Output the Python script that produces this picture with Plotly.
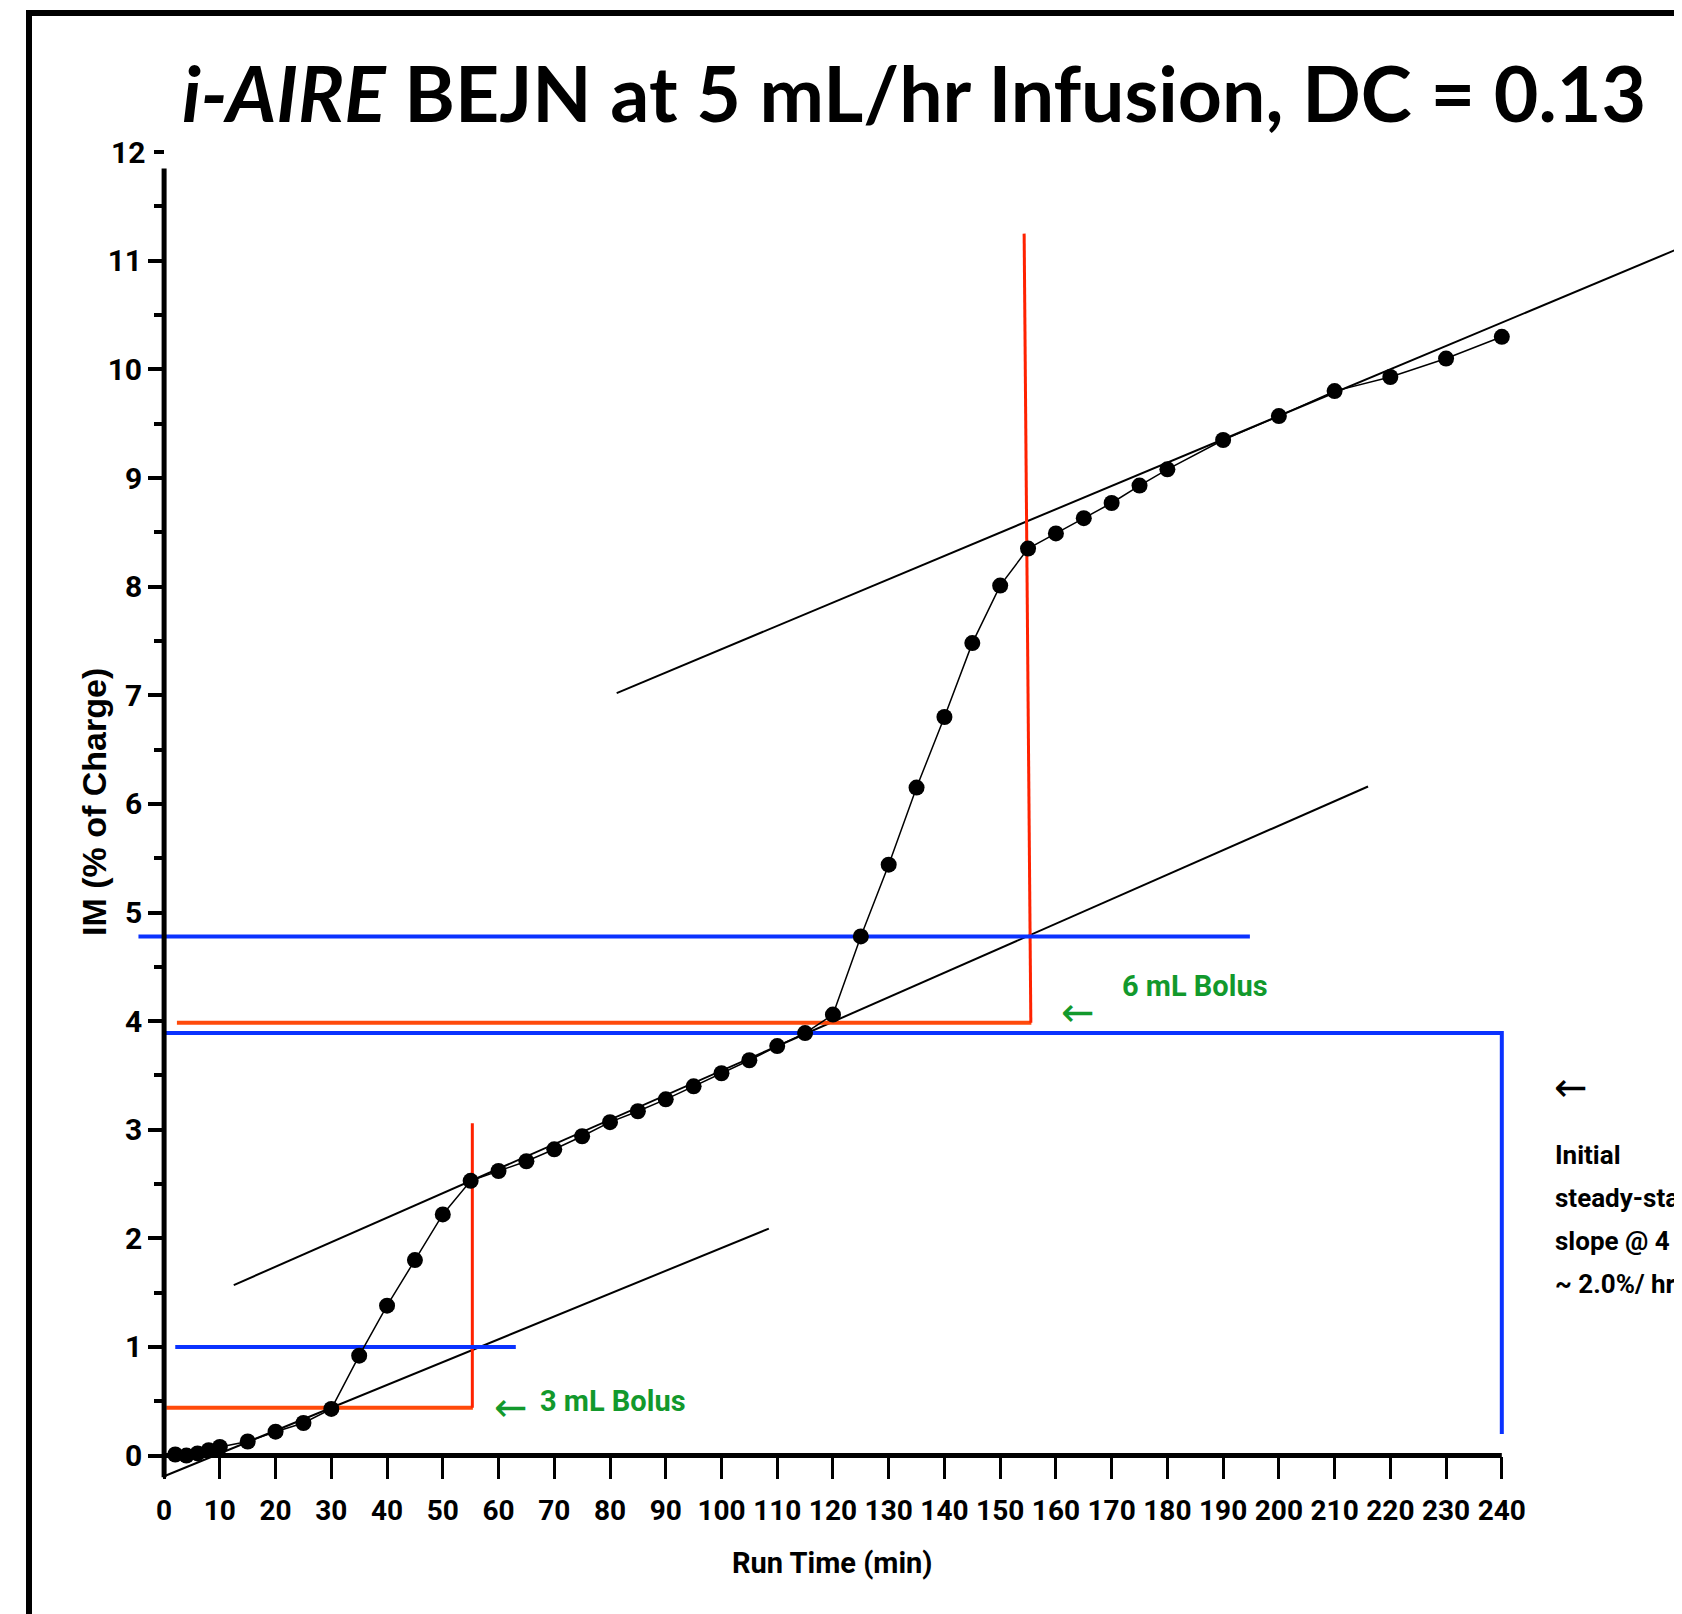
import plotly.graph_objects as go

# ---------------- data ----------------
time_min = [2, 4, 6, 8, 10, 15, 20, 25, 30, 35, 40, 45, 50, 55, 60, 65, 70, 75, 80,
            85, 90, 95, 100, 105, 110, 115, 120, 125, 130, 135, 140, 145, 150, 155,
            160, 165, 170, 175, 180, 190, 200, 210, 220, 230, 240]
im_pct = [0.01, 0.00, 0.02, 0.05, 0.08, 0.13, 0.22, 0.30, 0.43, 0.92, 1.38, 1.80, 2.22,
          2.53, 2.62, 2.71, 2.82, 2.94, 3.07, 3.17, 3.28, 3.40, 3.52, 3.64, 3.77, 3.89,
          4.06, 4.78, 5.44, 6.15, 6.80, 7.48, 8.01, 8.35, 8.49, 8.63, 8.77, 8.93, 9.08,
          9.35, 9.57, 9.80, 9.93, 10.10, 10.30]

# slope (fit) lines
fit1_x = [0, 108.5]
fit1_y = [-0.19, 2.09]
fit2_x = [12.5, 216.0]
fit2_y = [1.57, 6.16]
fit3_x = [81.2, 280.0]
fit3_y = [7.02, 11.29]

# bolus construction lines
bolus3_h_x = [0.4, 55.4]
bolus3_h_y = [0.44, 0.44]
bolus3_v_x = [55.3, 55.3]
bolus3_v_y = [0.44, 3.06]
blue1_x = [2.0, 63.1]
blue1_y = [1.0, 1.0]

bolus6_h_x = [2.3, 155.6]
bolus6_h_y = [3.985, 3.985]
bolus6_v_x = [155.5, 154.3]
bolus6_v_y = [3.985, 11.25]
blue478_x = [-4.6, 194.8]
blue478_y = [4.78, 4.78]
blue389_x = [0.0, 240.0, 240.0]
blue389_y = [3.89, 3.89, 0.2]

x_ticks = list(range(0, 241, 10))
y_ticks = list(range(0, 12))
y_minor = [v + 0.5 for v in range(0, 12)] + [12]

# ---------------- layout geometry ----------------
W, H = 1682, 1614
OFF = 8  # page body margin
SX = 5.5738   # px per minute
SY = 108.62   # px per % unit
X0_PAGE, Y0_PAGE = 164.1, 1455.6
XR0 = -(X0_PAGE - OFF) / SX
XR = [XR0, XR0 + W / SX]
YR1 = (Y0_PAGE - OFF) / SY
YR = [YR1 - H / SY, YR1]
x_axis_pos = (0 - YR[0]) / (YR[1] - YR[0])
y_axis_pos = (0 - XR[0]) / (XR[1] - XR[0])


def px(xp):
    return (xp - OFF) / W


def py(yp):
    return 1 - (yp - OFF) / H


NARROW = "Roboto, Arial, sans-serif"
ARIAL = "Liberation Sans, Arial, sans-serif"
ARROW = "DejaVu Sans, sans-serif"
BLACK = "#000000"
RED = "#ff2200"
ORANGE = "#ff4a0a"
BLUE = "#0a32ff"
GREEN = "#12992c"

fig = go.Figure()


def line(xs, ys, color, width):
    fig.add_trace(go.Scatter(x=xs, y=ys, mode="lines",
                             line=dict(color=color, width=width),
                             hoverinfo="skip", showlegend=False))


line(fit1_x, fit1_y, BLACK, 2)
line(fit2_x, fit2_y, BLACK, 2)
line(fit3_x, fit3_y, BLACK, 2)

line(bolus3_h_x, bolus3_h_y, ORANGE, 4)
line(bolus3_v_x, bolus3_v_y, RED, 3)
line(blue1_x, blue1_y, BLUE, 4)
line(bolus6_h_x, bolus6_h_y, ORANGE, 4)
line(bolus6_v_x, bolus6_v_y, RED, 3)
line(blue478_x, blue478_y, BLUE, 4)
line(blue389_x, blue389_y, BLUE, 4)

fig.add_trace(go.Scatter(x=time_min, y=im_pct, mode="lines+markers",
                         line=dict(color=BLACK, width=1.5),
                         marker=dict(color=BLACK, size=16, symbol="circle"),
                         showlegend=False))

# axis lines
fig.add_shape(type="line", xref="x", yref="y", x0=0, x1=240, y0=0, y1=0,
              line=dict(color=BLACK, width=5))
fig.add_shape(type="line", xref="x", yref="y", x0=0, x1=0, y0=-0.2, y1=11.85,
              line=dict(color=BLACK, width=5))

# outer frame
fig.add_shape(type="rect", xref="paper", yref="paper",
              x0=px(29), x1=1.05, y0=-0.05, y1=py(13),
              line=dict(color=BLACK, width=6), fillcolor="rgba(0,0,0,0)")

tick_font = dict(family=NARROW, size=28, color=BLACK, weight="bold")
ytick_font = dict(family=NARROW, size=30, color=BLACK, weight="bold")

fig.update_layout(
    width=W, height=H,
    margin=dict(l=0, r=0, t=0, b=0),
    paper_bgcolor="white", plot_bgcolor="white",
    showlegend=False,
    hovermode=False,
    title=dict(text="<i>i-AIRE</i> BEJN at 5 mL/hr Infusion, DC = 0.13",
               x=px(914), y=py(95), xanchor="center", yanchor="middle",
               xref="paper", yref="container",
               font=dict(family="Lato, Liberation Sans, sans-serif", size=77,
                         color=BLACK, weight="bold")),
    xaxis=dict(range=XR, anchor="free", position=x_axis_pos,
               showgrid=False, zeroline=False, showline=False,
               tickmode="array", tickvals=x_ticks, tickangle=0,
               ticks="outside", ticklen=22, tickwidth=3, tickcolor=BLACK,
               ticklabelstandoff=8, tickfont=tick_font),
    yaxis=dict(range=YR, anchor="free", position=y_axis_pos,
               showgrid=False, zeroline=False, showline=False,
               tickmode="array", tickvals=y_ticks,
               ticks="outside", ticklen=16, tickwidth=4, tickcolor=BLACK,
               tickfont=ytick_font,
               minor=dict(tickmode="array", tickvals=y_minor, ticks="outside",
                          ticklen=10, tickwidth=4, tickcolor=BLACK)),
)

annotations = [
    dict(text="12", x=0, y=12, xref="x", yref="y", xanchor="right",
         yanchor="middle", xshift=-17, showarrow=False, font=ytick_font),
    dict(text="Run Time (min)", x=px(832), y=py(1563), xref="paper", yref="paper",
         xanchor="center", yanchor="middle", showarrow=False,
         font=dict(family=NARROW, size=29, color=BLACK, weight="bold")),
    dict(text="IM (% of Charge)", x=px(94), y=py(802), xref="paper", yref="paper",
         xanchor="center", yanchor="middle", showarrow=False, textangle=-90,
         font=dict(family=ARIAL, size=34, color=BLACK, weight="bold")),
    dict(text="←", x=px(511), y=py(1407), xref="paper", yref="paper",
         xanchor="center", yanchor="middle", showarrow=False,
         font=dict(family=ARROW, size=40, color=GREEN)),
    dict(text="3 mL Bolus", x=px(538), y=py(1401), xref="paper", yref="paper",
         xanchor="left", yanchor="middle", showarrow=False,
         font=dict(family=NARROW, size=29, color=GREEN, weight="bold")),
    dict(text="←", x=px(1078), y=py(1012), xref="paper", yref="paper",
         xanchor="center", yanchor="middle", showarrow=False,
         font=dict(family=ARROW, size=40, color=GREEN)),
    dict(text="6 mL Bolus", x=px(1120), y=py(986), xref="paper", yref="paper",
         xanchor="left", yanchor="middle", showarrow=False,
         font=dict(family=NARROW, size=29, color=GREEN, weight="bold")),
    dict(text="←", x=px(1571), y=py(1087), xref="paper", yref="paper",
         xanchor="center", yanchor="middle", showarrow=False,
         font=dict(family=ARROW, size=40, color=BLACK)),
]
note_lines = ["Initial", "steady-state", "slope @ 4 mL/hr", "~ 2.0%/ hr"]
note_y = [1155, 1198, 1241, 1284]
for t, yy in zip(note_lines, note_y):
    annotations.append(dict(text=t, x=px(1553), y=py(yy), xref="paper", yref="paper",
                            xanchor="left", yanchor="middle", showarrow=False,
                            font=dict(family=NARROW, size=26, color=BLACK, weight="bold")))
fig.update_layout(annotations=annotations)

fig.write_html("out.html", config={"displayModeBar": False})
